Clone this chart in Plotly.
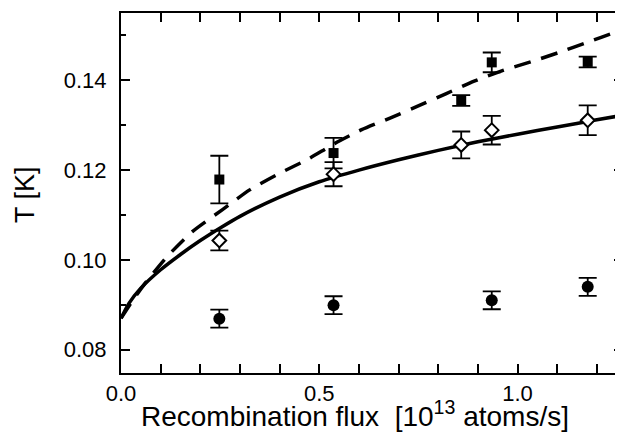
import plotly.graph_objects as go

# ---- data ----
flux = [0.248, 0.536, 0.858, 0.935, 1.177]
T_square = [0.1179, 0.1238, 0.1355, 0.1440, 0.1441]
T_square_err = [0.0053, 0.0034, 0.0012, 0.0022, 0.0012]
T_diamond = [0.1043, 0.1191, 0.1256, 0.1289, 0.1311]
T_diamond_err = [0.0022, 0.0027, 0.0030, 0.0032, 0.0033]
flux_circle = [0.248, 0.536, 0.935, 1.177]
T_circle = [0.0869, 0.0899, 0.0910, 0.0940]
T_circle_err = [0.0020, 0.0020, 0.0020, 0.0020]

solid_x = [0.0, 0.02, 0.05, 0.10, 0.15, 0.20, 0.25, 0.30, 0.40, 0.50, 0.60,
           0.70, 0.80, 0.90, 1.00, 1.10, 1.20, 1.27]
solid_y = [0.0870, 0.0903, 0.0937, 0.0978, 0.1012, 0.1043, 0.1071, 0.1097,
           0.1140, 0.1174, 0.1200, 0.1223, 0.1244, 0.1263, 0.1280, 0.1296,
           0.1312, 0.1323]
dash_x = [0.0, 0.03, 0.06, 0.117, 0.18, 0.256, 0.3245, 0.398, 0.4687, 0.5384,
          0.607, 0.6785, 0.7497, 0.819, 0.8906, 0.9635, 1.033, 1.1044, 1.177,
          1.247, 1.27]
dash_y = [0.0870, 0.0910, 0.0947, 0.1008, 0.1063, 0.1112, 0.1156, 0.1192,
          0.1223, 0.1259, 0.1290, 0.1316, 0.1343, 0.1370, 0.1398, 0.1422,
          0.1441, 0.1462, 0.1485, 0.1507, 0.1514]

x_title = "Recombination flux  [10<sup>13</sup> atoms/s]"
y_title = "T [K]"

FONT = "Arial, Liberation Sans, sans-serif"

fig = go.Figure()
fig.add_trace(go.Scatter(x=dash_x, y=dash_y, mode="lines",
                         line=dict(color="black", width=3.5, dash="17px,11px", shape="spline", smoothing=0.6),
                         showlegend=False, hoverinfo="skip"))
fig.add_trace(go.Scatter(x=solid_x, y=solid_y, mode="lines",
                         line=dict(color="black", width=3.5, shape="spline", smoothing=0.6),
                         showlegend=False, hoverinfo="skip"))

eb = dict(type="data", color="black", thickness=1.8, width=9)
fig.add_trace(go.Scatter(x=flux, y=T_square, mode="markers",
                         marker=dict(symbol="square", size=10, color="black"),
                         error_y=dict(array=T_square_err, **eb), showlegend=False))
fig.add_trace(go.Scatter(x=flux, y=T_diamond, mode="markers",
                         marker=dict(symbol="diamond", size=10.5, color="white",
                                     line=dict(color="black", width=2)),
                         error_y=dict(array=T_diamond_err, **eb), showlegend=False))
fig.add_trace(go.Scatter(x=flux_circle, y=T_circle, mode="markers",
                         marker=dict(symbol="circle", size=12, color="black"),
                         error_y=dict(array=T_circle_err, **eb), showlegend=False))
# empty trace so that the right-hand tick axis exists
fig.add_trace(go.Scatter(x=[], y=[], yaxis="y2", showlegend=False))

YR = [0.0748, 0.1550]
# page body has an 8px default margin, so the figure is 8px smaller and shifted
fig.update_layout(
    width=615, height=429,
    margin=dict(l=113, r=0, t=5, b=64),
    paper_bgcolor="white", plot_bgcolor="white",
    font=dict(family=FONT, color="black", size=22),
    xaxis=dict(range=[0, 1.266], tick0=0, dtick=0.5, tickformat=".1f",
               ticks="inside", ticklen=9, tickwidth=2, tickcolor="black",
               showline=True, linewidth=2, linecolor="black", mirror="allticks",
               showgrid=False, zeroline=False,
               minor=dict(dtick=0.1, ticks="inside", ticklen=5, tickwidth=2, tickcolor="black"),
               tickfont=dict(size=22), ticklabelstandoff=0),
    yaxis=dict(range=YR, tick0=0, dtick=0.02, tickformat=".2f",
               ticks="inside", ticklen=9, tickwidth=2, tickcolor="black",
               showline=True, linewidth=2, linecolor="black", mirror=False,
               showgrid=False, zeroline=False,
               minor=dict(dtick=0.01, ticks="inside", ticklen=5, tickwidth=2, tickcolor="black"),
               tickfont=dict(size=22), ticklabelstandoff=8),
    yaxis2=dict(range=YR, overlaying="y", side="right", dtick=0.02, tick0=0,
                ticks="inside", ticklen=9, tickwidth=2, tickcolor="black",
                showticklabels=False, showline=False, showgrid=False, zeroline=False,
                minor=dict(dtick=0.01, ticks="inside", ticklen=5, tickwidth=2, tickcolor="black")),
    annotations=[
        dict(text=x_title, xref="paper", yref="paper", x=0.466, y=-0.115,
             xanchor="center", yanchor="middle", showarrow=False,
             font=dict(size=28, family=FONT)),
        dict(text=y_title, xref="paper", yref="paper", x=-0.191, y=0.495,
             xanchor="center", yanchor="middle", showarrow=False, textangle=-90,
             font=dict(size=27, family=FONT)),
    ],
)

fig.write_html("out.html")
